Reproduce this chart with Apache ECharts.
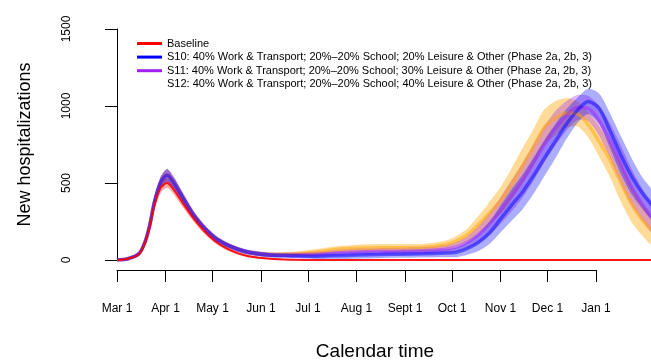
<!DOCTYPE html>
<html>
<head>
<meta charset="utf-8">
<script src="https://cdn.jsdelivr.net/npm/echarts@6/dist/echarts.min.js"></script>
<style>
  html, body { margin: 0; padding: 0; background: #fff; }
  #chart { width: 651px; height: 361px; }
</style>
</head>
<body>
<div id="chart"></div>
<script>
// days since Mar 1 (sample points)
const days = [0, 7, 14, 18, 21, 24, 28, 32, 36, 42, 49, 56, 63, 70, 77, 84, 98, 112, 126, 140, 154, 168, 182, 196, 210, 217, 224, 231, 238, 245, 252, 259, 266, 273, 280, 287, 294, 301, 308, 315, 322, 329, 336, 342];

// median of each scenario's cloud of trajectories
const baseline = [0, 8, 38, 115, 220, 360, 470, 500, 460, 370, 270, 185, 120, 75, 45, 25, 8, 2, 0, 0, 0, 0, 0, 0, 0, 0, 0, 0, 0, 0, 0, 0, 0, 0, 0, 0, 0, 0, 0, 0, 0, 0, 0, 0];
const s10 = [0, 8, 40, 120, 230, 380, 505, 550, 505, 405, 290, 205, 140, 100, 70, 50, 32, 28, 25, 28, 32, 35, 38, 40, 45, 50, 75, 115, 175, 265, 355, 440, 545, 660, 770, 880, 970, 1030, 985, 840, 680, 540, 430, 355];
const s11 = [0, 8, 40, 120, 230, 380, 505, 550, 505, 405, 290, 205, 140, 100, 70, 50, 33, 32, 35, 45, 52, 55, 57, 60, 70, 85, 115, 165, 235, 320, 415, 515, 630, 750, 855, 935, 990, 985, 905, 775, 620, 470, 355, 270];
const s12 = [0, 8, 40, 120, 230, 380, 505, 550, 505, 405, 290, 205, 140, 100, 70, 50, 35, 38, 50, 68, 76, 80, 80, 82, 100, 125, 165, 230, 305, 385, 490, 610, 730, 860, 920, 955, 950, 880, 770, 650, 500, 360, 255, 190];

// half width of the clouds
const baselineSpread = [1, 3, 8, 15, 20, 25, 30, 30, 28, 25, 20, 15, 12, 10, 8, 6, 3, 1, 0, 0, 0, 0, 0, 0, 0, 0, 0, 0, 0, 0, 0, 0, 0, 0, 0, 0, 0, 0, 0, 0, 0, 0, 0, 0];
const spread = [2, 4, 10, 20, 25, 30, 35, 40, 35, 30, 25, 20, 18, 15, 14, 14, 14, 15, 18, 20, 22, 22, 22, 22, 25, 30, 40, 55, 70, 85, 100, 110, 115, 115, 110, 95, 80, 80, 95, 110, 120, 115, 100, 90];

const tickDays = [0, 31, 61, 92, 122, 153, 184, 214, 245, 275, 306];
const tickLabels = ["Mar 1", "Apr 1", "May 1", "Jun 1", "Jul 1", "Aug 1", "Sept 1", "Oct 1", "Nov 1", "Dec 1", "Jan 1"];

const names = [
  "Baseline",
  "S10: 40% Work & Transport; 20%\u201320% School; 20% Leisure & Other (Phase 2a, 2b, 3)",
  "S11: 40% Work & Transport; 20%\u201320% School; 30% Leisure & Other (Phase 2a, 2b, 3)",
  "S12: 40% Work & Transport; 20%\u201320% School; 40% Leisure & Other (Phase 2a, 2b, 3)"
];
const colors = ["#ff0000", "#0000ff", "#a020f0", "#ffa500"];

const font = "'Liberation Sans', Arial, Helvetica, sans-serif";

// cloud drawn as one polygon: upper edge then lower edge backwards
function band(mid, sp, color, opacity) {
  return {
    type: "custom",
    silent: true,
    clip: true,
    xAxisIndex: 0,
    yAxisIndex: 0,
    data: [[0, 0]],
    renderItem: function (params, api) {
      let pts = [];
      for (let i = 0; i < days.length; i++) {
        pts.push(api.coord([days[i], mid[i] + sp[i]]));
      }
      for (let i = days.length - 1; i >= 0; i--) {
        pts.push(api.coord([days[i], Math.max(0, mid[i] - sp[i])]));
      }
      return {
        type: "polygon",
        shape: { points: pts, smooth: 0.25 },
        style: { fill: color, opacity: opacity, stroke: color, lineWidth: 1, strokeOpacity: 0.3 },
      };
    },
  };
}

function midLine(name, mid, color, width, opacity) {
  return {
    name: name,
    type: "line",
    smooth: 0.3,
    symbol: "none",
    color: color,
    lineStyle: { width: width, color: color, opacity: opacity },
    data: days.map((d, i) => [d, mid[i]]),
  };
}

let seriesArr = [
  band(baseline, baselineSpread, colors[0], 0.35),
  band(s12, spread, colors[3], 0.4),
  band(s11, spread, colors[2], 0.32),
  band(s10, spread, colors[1], 0.32),
  midLine(names[3], s12, colors[3], 3.5, 0.5),
  midLine(names[2], s11, colors[2], 3.5, 0.45),
  midLine(names[1], s10, colors[1], 3.5, 0.5),
  midLine(names[0], baseline, colors[0], 2, 0.9),
];

const myChart = echarts.init(document.getElementById("chart"));
myChart.setOption({
  animation: false,
  backgroundColor: "#fff",
  textStyle: { fontFamily: font },
  grid: [
    // data area
    { left: 117, right: 0, top: 29, bottom: 101 },
    // x axis drawn between Mar 1 and Jan 1 only
    { left: 117, width: 479, top: 29, height: 241 },
  ],
  legend: {
    orient: "vertical",
    left: 132,
    top: 33,
    icon: "rect",
    itemWidth: 25,
    itemHeight: 3,
    itemGap: 2.6,
    selectedMode: false,
    textStyle: { fontSize: 11, color: "#000", fontFamily: font, lineHeight: 11 },
    data: [
      { name: names[0], itemStyle: { color: colors[0], opacity: 1 } },
      { name: names[1], itemStyle: { color: colors[1], opacity: 1 } },
      { name: names[2], itemStyle: { color: colors[2], opacity: 1 } },
      { name: names[3], itemStyle: { opacity: 0 } },
    ],
  },
  xAxis: [
    { gridIndex: 0, type: "value", min: 0, max: 341.2, show: false },
    {
      gridIndex: 1,
      type: "value",
      min: 0,
      max: 306,
      axisLine: { show: true, lineStyle: { color: "#000", width: 1 } },
      axisTick: { show: true, customValues: tickDays, length: 12, lineStyle: { color: "#000" } },
      axisLabel: {
        customValues: tickDays,
        margin: 33,
        fontSize: 12,
        color: "#000",
        fontFamily: font,
        formatter: (v) => tickLabels[tickDays.indexOf(v)],
      },
      splitLine: { show: false },
    },
  ],
  yAxis: [
    {
      gridIndex: 0,
      type: "value",
      min: 0,
      max: 1500,
      interval: 500,
      offset: 18,
      axisLine: { show: true, lineStyle: { color: "#000", width: 1 } },
      axisTick: { show: true, length: 12, lineStyle: { color: "#000" } },
      axisLabel: {
        rotate: 90,
        margin: 26,
        fontSize: 12,
        color: "#000",
        fontFamily: font,
        formatter: (v) => String(v),
      },
      splitLine: { show: false },
      name: "New hospitalizations",
      nameLocation: "middle",
      nameGap: 65,
      nameTextStyle: { fontSize: 18, color: "#000", fontFamily: font },
    },
    { gridIndex: 1, type: "value", show: false },
  ],
  graphic: [
    {
      type: "text",
      x: 375,
      y: 352,
      style: {
        text: "Calendar time",
        fontSize: 19,
        fontFamily: font,
        fill: "#000",
        align: "center",
        verticalAlign: "middle",
      },
    },
  ],
  series: seriesArr,
});
</script>
</body>
</html>
